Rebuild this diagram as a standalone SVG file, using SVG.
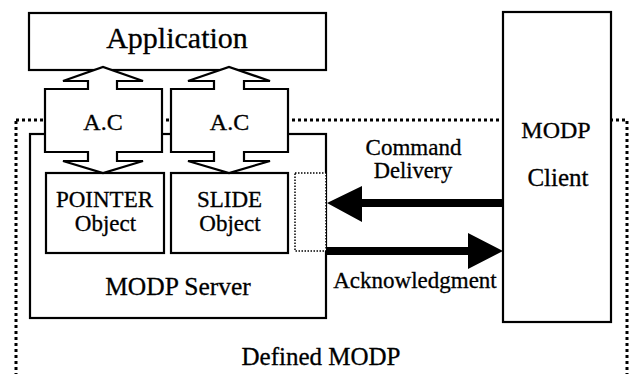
<svg xmlns="http://www.w3.org/2000/svg" width="633" height="374" viewBox="0 0 633 374">
  <style>
    .box { fill: #fff; stroke: #000; stroke-width: 2.2; }
    .lbl { font-family: "Liberation Serif", "Times New Roman", serif; fill: #000; stroke: #000; stroke-width: 0.3; text-anchor: middle; }
    .bound { fill: none; stroke: #000; stroke-width: 3; stroke-dasharray: 3 3; }
    .slot { fill: #fff; stroke: #000; stroke-width: 1.5; stroke-dasharray: 1.5 1.5; }
    .flow { fill: #000; stroke: none; }
  </style>
  <rect width="633" height="374" fill="#fff"/>

  <!-- Defined MODP boundary (dotted) -->
  <g id="defined-modp">
    <rect class="bound" x="16" y="120" width="611" height="258"/>
    <text class="lbl" x="321" y="365" font-size="25">Defined MODP</text>
  </g>

  <!-- Application -->
  <g id="application">
    <rect class="box" x="29" y="13" width="297" height="57"/>
    <text class="lbl" x="177" y="48" font-size="30">Application</text>
  </g>

  <!-- MODP Server -->
  <g id="modp-server">
    <rect class="box" x="30" y="134" width="296" height="184"/>
    <text class="lbl" x="178" y="295" font-size="25.5">MODP Server</text>
  </g>

  <!-- Objects inside the server -->
  <g id="pointer-object">
    <rect class="box" x="46" y="173" width="118" height="80"/>
    <text class="lbl" x="104.5" y="207" font-size="23">POINTER</text>
    <text class="lbl" x="105.5" y="231" font-size="23">Object</text>
  </g>
  <g id="slide-object">
    <rect class="box" x="171" y="173" width="117" height="80"/>
    <text class="lbl" x="229.5" y="207" font-size="23">SLIDE</text>
    <text class="lbl" x="230" y="231" font-size="23">Object</text>
  </g>
  <g id="interface-slot">
    <rect class="slot" x="295" y="173" width="31" height="78"/>
  </g>

  <!-- A.C blocks with two-way arrows -->
  <g id="ac-1">
    <path class="box" d="M45,89 H88 V81 H63 L103,67 L143,81 H117 V89 H162 V152 H117 V161 H143 L103,173 L63,161 H88 V152 H45 Z"/>
    <text class="lbl" x="103" y="130" font-size="24">A.C</text>
  </g>
  <g id="ac-2">
    <path class="box" d="M171,89 H214 V81 H188 L229,67 L270,81 H244 V89 H288 V152 H244 V161 H270 L229,173 L188,161 H214 V152 H171 Z"/>
    <text class="lbl" x="229.5" y="130" font-size="24">A.C</text>
  </g>

  <!-- MODP Client -->
  <g id="modp-client">
    <rect class="box" x="503" y="12" width="108" height="310"/>
    <text class="lbl" x="556" y="138" font-size="24">MODP</text>
    <text class="lbl" x="558" y="186" font-size="25">Client</text>
  </g>

  <!-- Connectors between client and server -->
  <g id="connectors">
    <polygon class="flow" points="327,203 362,186 362,199 503,199 503,207 362,207 362,222"/>
    <polygon class="flow" points="503,251 468,233 468,247 326,247 326,255 468,255 468,269"/>
    <text class="lbl" x="413.5" y="155" font-size="23">Command</text>
    <text class="lbl" x="413" y="178" font-size="22.5">Delivery</text>
    <text class="lbl" x="415" y="288" font-size="23">Acknowledgment</text>
  </g>
</svg>
